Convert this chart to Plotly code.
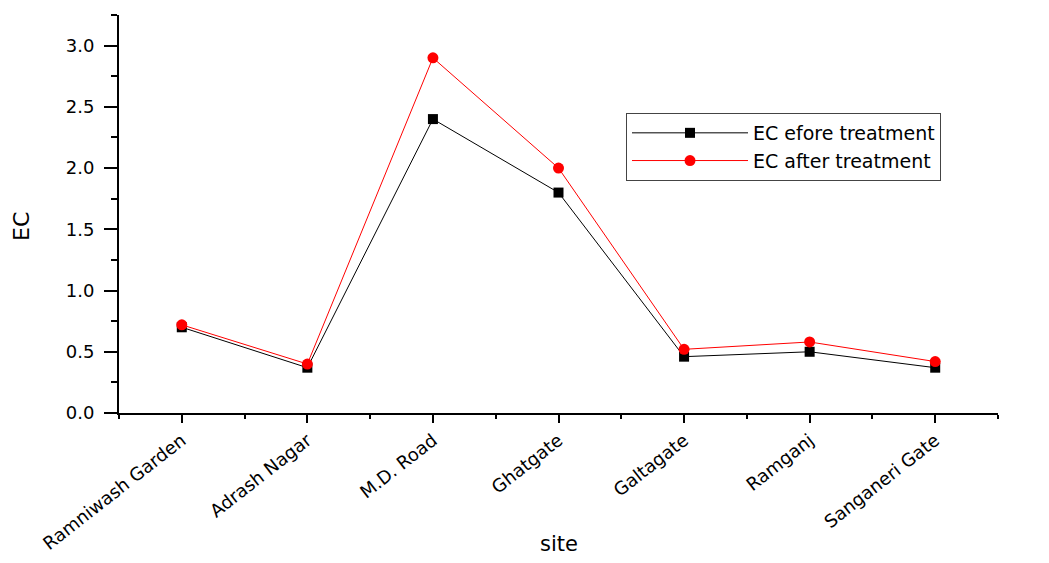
import plotly.graph_objects as go

sites = ["Ramniwash Garden", "Adrash Nagar", "M.D. Road", "Ghatgate",
         "Galtagate", "Ramganj", "Sanganeri Gate"]
ec_before = [0.70, 0.37, 2.40, 1.80, 0.46, 0.50, 0.37]
ec_after = [0.72, 0.40, 2.90, 2.00, 0.52, 0.58, 0.42]
x_title = "site"
y_title = "EC"

x_pos = list(range(len(sites)))
FONT = "DejaVu Sans, Liberation Sans, Arial, sans-serif"

fig = go.Figure()
fig.add_trace(go.Scatter(
    x=x_pos, y=ec_before, mode="lines+markers", name="EC efore treatment",
    line=dict(color="black", width=1),
    marker=dict(symbol="square", size=10, color="black"),
))
fig.add_trace(go.Scatter(
    x=x_pos, y=ec_after, mode="lines+markers", name="EC after treatment",
    line=dict(color="red", width=1),
    marker=dict(symbol="circle", size=11, color="red"),
))

fig.update_layout(
    width=1033, height=547,
    margin=dict(l=111, r=43, t=7, b=142),
    plot_bgcolor="white", paper_bgcolor="white",
    font=dict(family=FONT, color="black"),
    showlegend=True,
    legend=dict(
        x=0.5768, y=0.7538, xanchor="left", yanchor="top",
        bgcolor="white", bordercolor="#444", borderwidth=1,
        font=dict(size=19, family=FONT), tracegroupgap=0,
        itemwidth=116,
    ),
    annotations=[
        dict(text=x_title, xref="paper", yref="paper", x=0.5, y=-0.364,
             xanchor="center", yanchor="bottom", showarrow=False,
             font=dict(size=21, family=FONT)),
        dict(text=y_title, xref="paper", yref="paper", x=-0.1104, y=0.47,
             xanchor="center", yanchor="middle", textangle=-90, showarrow=False,
             font=dict(size=22, family=FONT)),
    ],
)
fig.update_xaxes(
    range=[-0.5, len(sites) - 0.5],
    tickmode="array", tickvals=x_pos, ticktext=sites,
    tickangle=-38, tickfont=dict(size=18),
    ticks="outside", ticklen=8, tickwidth=2, tickcolor="black",
    showline=True, linecolor="black", linewidth=2,
    showgrid=False, zeroline=False, automargin=False,
    minor=dict(tick0=-0.5, dtick=1, ticks="outside", ticklen=4, tickwidth=2, tickcolor="black", showgrid=False),
)
fig.update_yaxes(
    range=[0, 3.25], dtick=0.5, tick0=0, tickformat=".1f",
    tickfont=dict(size=18),
    ticks="outside", ticklen=13, tickwidth=2, tickcolor="black",
    ticklabelstandoff=6,
    showline=True, linecolor="black", linewidth=2,
    showgrid=False, zeroline=False, automargin=False,
    minor=dict(dtick=0.25, ticks="outside", ticklen=6, tickwidth=2, tickcolor="black", showgrid=False),
)

fig.write_html("out.html")
